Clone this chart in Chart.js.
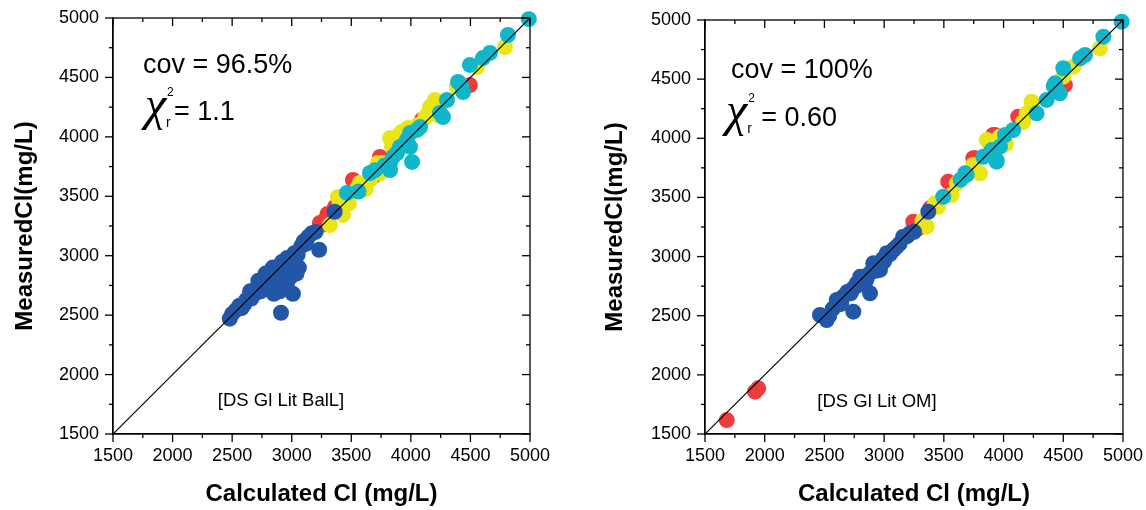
<!DOCTYPE html>
<html>
<head>
<meta charset="utf-8">
<script src="https://cdn.jsdelivr.net/npm/chart.js@4"></script>
<style>
  html, body { margin: 0; padding: 0; background: #fff; }
  .wrap { position: absolute; top: 0; width: 573px; height: 510px; }
</style>
</head>
<body>
<div class="wrap" style="left:0"><canvas id="leftChart" width="573" height="510"></canvas></div>
<div class="wrap" style="left:573px"><canvas id="rightChart" width="573" height="510"></canvas></div>
<script>
// axis range (same on both panels)
const axisMin = 1500;
const axisMax = 5000;
const axisStep = 250;
const labelStep = 500;
const oneToOne = [[1500, 1500], [5000, 5000]];

// left panel [DS Gl Lit BalL] — [calculated, measured]
const leftBlue = [[2480,2470],[2500,2510],[2530,2540],[2560,2580],[2600,2590],[2620,2630],[2660,2640],[2690,2680],
  [2700,2720],[2720,2790],[2740,2760],[2760,2800],[2780,2850],[2800,2720],[2820,2790],[2840,2900],[2860,2760],
  [2880,2830],[2900,2700],[2910,2520],[2920,2950],[2940,2780],[2960,2980],[2980,2870],[3000,2940],[3020,3020],
  [3010,2680],[3040,2850],[3060,2900],[3080,3080],[3100,3120],[3140,3160],[3170,3190],[3200,3200],[3230,3050],
  [3360,3370],[2650,2700],[2780,2740],[2850,2680],[2960,2760],[2580,2560],[2740,2700],[2880,2900],[3050,3010],
  [2990,2820],[2830,2840],[3120,3100]];
const leftRed = [[3237,3275],[3265,3262],[3280,3300],[3363,3410],[3447,3469],[3514,3637],[3531,3620],[3699,3679],
  [3741,3831],[3892,3999],[4093,4142],[4496,4436],[3300,3350]];
const leftYellow = [[3321,3258],[3388,3494],[3430,3343],[3400,3420],[3556,3578],[3573,3612],[3657,3637],[3724,3780],
  [3741,3696],[3758,3780],[3825,3990],[3842,3915],[3850,3974],[3967,3948],[3976,4075],[4119,4159],[4135,4184],
  [4161,4251],[4177,4200],[4202,4310],[4227,4184],[4387,4420],[4555,4588],[4790,4756],[3480,3440],[3620,3560],
  [3920,4040],[4060,4100]];
const leftCyan = [[3464,3528],[3657,3696],[3825,3780],[3825,3721],[3850,3831],[3884,3864],[3909,3915],[3967,3974],
  [3993,4033],[4010,3789],[4052,4058],[4077,4083],[4244,4201],[4270,4167],[4303,4310],[4396,4462],[4438,4377],
  [4496,4605],[4605,4663],[4664,4706],[4815,4857],[4990,4990],[3993,3915],[3700,3720],[3560,3540],[4420,4440],
  [3780,3760]];

// right panel [DS Gl Lit OM]
const rightBlue = [[2463,2506],[2519,2464],[2540,2500],[2570,2560],[2603,2633],[2640,2600],[2658,2661],[2690,2700],
  [2720,2690],[2742,2534],[2770,2774],[2790,2760],[2825,2802],[2850,2800],[2882,2690],[2870,2850],[2909,2943],
  [2930,2880],[2965,2887],[2990,2980],[3021,3028],[3050,3020],[3080,3060],[3105,3084],[3130,3110],[3160,3168],
  [3190,3170],[3217,3197],[3250,3210],[3370,3379],[2800,2830],[2950,2920],[2600,2590],[2740,2730],[2900,2880],
  [3000,2960]];
const rightRed = [[1682,1618],[1919,1858],[1946,1886],[3244,3295],[3286,3239],[3300,3253],[3384,3408],[3537,3633],
  [3747,3831],[3761,3831],[3914,4028],[3928,4028],[4123,4183],[4514,4450]];
const rightYellow = [[3356,3253],[3426,3450],[3565,3521],[3607,3619],[3747,3774],[3747,3760],[3803,3704],[3859,3986],
  [3970,4014],[4165,4140],[4194,4211],[4235,4309],[4500,4521],[4584,4605],[4807,4761],[3320,3300],[3450,3420],
  [3990,3960],[4020,3950],[3880,3960]];
const rightCyan = [[3495,3506],[3677,3704],[3691,3690],[3830,3844],[3886,3873],[3942,3802],[3942,3816],[3970,3929],
  [4012,4028],[4081,4070],[4277,4211],[4361,4324],[4431,4465],[4472,4380],[4500,4592],[4640,4676],[4682,4704],
  [4836,4859],[4989,4986],[3640,3650],[3900,3900],[4420,4440]];

const FONT = "'Liberation Sans', Arial, sans-serif";
const COLORS = { blue: '#2257A7', red: '#EE3B3E', yellow: '#E9E518', cyan: '#10B6CA' };

const toXY = pts => pts.map(p => ({ x: p[0], y: p[1] }));

// box round the plot with ticks: outward on bottom/left, mirrored on top/right
const frameTicks = {
    id: 'frameTicks',
    afterDraw(chart) {
        const { ctx, chartArea: a, scales: { x, y } } = chart;
        ctx.save();
        ctx.strokeStyle = '#000';
        ctx.lineWidth = 1.3;
        ctx.strokeRect(a.left, a.top, a.right - a.left, a.bottom - a.top);
        const seg = (x1, y1, x2, y2) => { ctx.beginPath(); ctx.moveTo(x1, y1); ctx.lineTo(x2, y2); ctx.stroke(); };
        x.ticks.forEach(t => {
            const px = x.getPixelForValue(t.value);
            const len = t.value % labelStep === 0 ? 8 : 4;
            seg(px, a.bottom, px, a.bottom + len);
            seg(px, a.top, px, a.top + len);
        });
        y.ticks.forEach(t => {
            const py = y.getPixelForValue(t.value);
            const len = t.value % labelStep === 0 ? 8 : 4;
            seg(a.left - len, py, a.left, py);
            seg(a.right - len, py, a.right, py);
        });
        ctx.restore();
    }
};

// cov / chi-square text and run label
const notes = {
    id: 'notes',
    afterDraw(chart, args, opts) {
        const { ctx, scales: { x, y } } = chart;
        ctx.save();
        ctx.fillStyle = '#000';
        ctx.textBaseline = 'alphabetic';
        ctx.textAlign = 'left';

        ctx.font = '27px ' + FONT;
        ctx.fillText(opts.cov, x.getPixelForValue(opts.covAt[0]), y.getPixelForValue(opts.covAt[1]));

        const cx = x.getPixelForValue(opts.chiAt[0]);
        const cy = y.getPixelForValue(opts.chiAt[1]);
        ctx.font = "italic 48px 'Liberation Serif', serif";
        ctx.fillText('χ', cx - 2, cy);
        const w = ctx.measureText('χ').width - 2;
        ctx.font = '12px ' + FONT;
        ctx.fillText('2', cx + w + 1, cy - 24);
        ctx.font = '14px ' + FONT;
        ctx.fillText('r', cx + w, cy + 7);
        ctx.font = '27px ' + FONT;
        ctx.fillText(opts.chi, cx + w + opts.chiGap, cy);

        ctx.font = '18.5px ' + FONT;
        ctx.textAlign = 'center';
        ctx.textBaseline = 'middle';
        ctx.fillText(opts.tag, x.getPixelForValue(opts.tagAt[0]), y.getPixelForValue(opts.tagAt[1]));
        ctx.restore();
    }
};

function scatterSet(pts, color) {
    return {
        type: 'scatter',
        data: toXY(pts),
        backgroundColor: color,
        borderWidth: 0,
        pointRadius: 8,
        pointHoverRadius: 8,
        clip: false
    };
}

function makeChart(id, series, frame, noteOpts) {
    const axisBase = {
        type: 'linear',
        min: axisMin,
        max: axisMax,
        border: { display: true, color: '#000', width: 1.3 },
        grid: { display: true, drawOnChartArea: false, drawTicks: true, tickLength: 8, tickColor: 'rgba(0,0,0,0)' },
        ticks: {
            stepSize: axisStep,
            autoSkip: false,
            maxRotation: 0,
            color: '#000',
            font: { family: FONT, size: 18 },
            callback: v => (v % labelStep === 0 ? v : '')
        }
    };
    return new Chart(document.getElementById(id), {
        type: 'scatter',
        data: {
            datasets: [
                {
                    type: 'line',
                    data: toXY(oneToOne),
                    borderColor: '#000',
                    borderWidth: 1.2,
                    pointRadius: 0,
                    fill: false
                },
                scatterSet(series.blue, COLORS.blue),
                scatterSet(series.cyan, COLORS.cyan),
                scatterSet(series.yellow, COLORS.yellow),
                scatterSet(series.red, COLORS.red)
            ]
        },
        options: {
            responsive: false,
            animation: false,
            events: [],
            layout: { padding: { top: frame.top, right: frame.right, bottom: 0, left: 0 } },
            scales: {
                x: {
                    ...axisBase,
                    position: 'bottom',
                    ticks: { ...axisBase.ticks, padding: 3 },
                    title: {
                        display: true,
                        text: 'Calculated Cl (mg/L)',
                        color: '#000',
                        font: { family: FONT, size: 24, weight: 'bold' },
                        padding: { top: 0, bottom: 1 }
                    },
                    afterFit: s => { s.height = 76; }
                },
                y: {
                    ...axisBase,
                    position: 'left',
                    ticks: { ...axisBase.ticks, padding: 6 },
                    title: {
                        display: true,
                        text: 'MeasuredCl(mg/L)',
                        color: '#000',
                        font: { family: FONT, size: 24, weight: 'bold' },
                        padding: { top: frame.titlePad, bottom: 0 }
                    },
                    afterFit: s => { s.width = frame.left; }
                }
            },
            plugins: {
                legend: { display: false },
                tooltip: { enabled: false },
                notes: noteOpts
            }
        },
        plugins: [frameTicks, notes]
    });
}

makeChart('leftChart',
    { blue: leftBlue, red: leftRed, yellow: leftYellow, cyan: leftCyan },
    { left: 113, right: 43, top: 18, titlePad: 11 },
    { cov: 'cov = 96.5%', covAt: [1752, 4537], chi: '= 1.1', chiAt: [1785, 4142], chiGap: 8,
      tag: '[DS Gl Lit BalL]', tagAt: [2910, 1778] });

makeChart('rightChart',
    { blue: rightBlue, red: rightRed, yellow: rightYellow, cyan: rightCyan },
    { left: 132, right: 23, top: 20, titlePad: 28 },
    { cov: 'cov = 100%', covAt: [1718, 4510], chi: '= 0.60', chiAt: [1693, 4104], chiGap: 14,
      tag: '[DS Gl Lit OM]', tagAt: [2940, 1771] });
</script>
</body>
</html>
